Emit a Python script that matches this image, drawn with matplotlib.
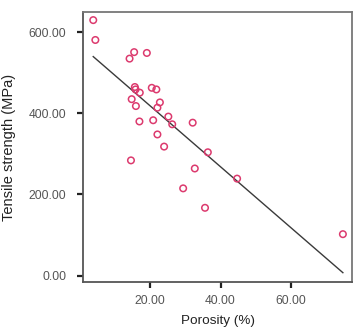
import numpy as np
import matplotlib
matplotlib.use('Agg')
import matplotlib.pyplot as plt

plt.rcParams['font.family'] = ['Liberation Sans', 'DejaVu Sans']

# porosity (%) and tensile strength (MPa)
porosity = [3.9, 4.5, 15.5, 14.2, 19.1, 15.7, 15.9, 17.1, 20.5, 21.8,
            14.8, 16.0, 22.8, 22.1, 25.2, 26.3, 20.9, 17.0, 32.1, 22.1,
            24.0, 14.6, 29.4, 35.6, 32.7, 36.4, 44.7, 74.7]
strength = [630, 581, 551, 535, 549, 465, 459, 451, 463, 459,
            435, 418, 427, 414, 392, 373, 383, 380, 377, 348,
            318, 284, 215, 167, 264, 304, 239, 102]
xticks = [20, 40, 60]
yticks = [0, 200, 400, 600]
# fitted line end values (MPa) at min / max porosity
fit_ends = [540, 7]

fig = plt.figure(figsize=(3.54, 3.27), dpi=100)
ax = fig.add_axes([0.2345, 0.1376, 0.76, 0.8257])

ax.scatter(porosity, strength, s=22, facecolors='none', edgecolors='#dc3a6e', linewidths=1.1, zorder=3)
ax.plot([min(porosity), max(porosity)], fit_ends, color='#3a3a3a', lw=1.0, zorder=2)

ax.set_xlim(1.0, 77.3)
ax.set_ylim(-16, 650)
ax.set_xticks(xticks)
ax.set_yticks(yticks)
ax.set_xticklabels(['%.2f' % t for t in xticks])
ax.set_yticklabels(['%.2f' % t for t in yticks])
ax.tick_params(direction='out', length=4, width=1.6, color='#222222', labelsize=8.7, labelcolor='#555555')
ax.tick_params(axis='y', pad=8)
ax.tick_params(axis='x', pad=5)

for s in ['left', 'bottom']:
    ax.spines[s].set_color('#555555')
    ax.spines[s].set_linewidth(1.3)
for s in ['top', 'right']:
    ax.spines[s].set_color('#777777')
    ax.spines[s].set_linewidth(1.3)

ax.set_xlabel('Porosity (%)', fontsize=9.7, color='#222222', labelpad=6)
ax.set_ylabel('Tensile strength (MPa)', fontsize=10.5, color='#222222', labelpad=9)

fig.savefig('out.png', dpi=100, facecolor='white')
